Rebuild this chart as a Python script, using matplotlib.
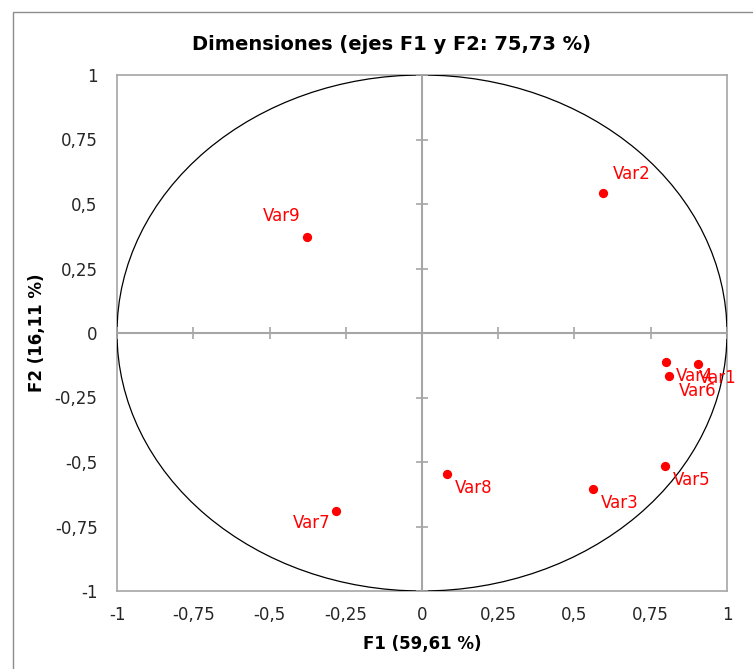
import matplotlib
matplotlib.use("Agg")
import matplotlib.pyplot as plt
from matplotlib.patches import Circle, Rectangle
from matplotlib.ticker import FuncFormatter
import numpy as np

# Variable coordinates on the correlation circle (F1, F2)
var_names = ["Var1", "Var2", "Var3", "Var4", "Var5", "Var6", "Var7", "Var8", "Var9"]
f1 = [0.905, 0.593, 0.561, 0.800, 0.797, 0.810, -0.282, 0.082, -0.377]
f2 = [-0.120, 0.543, -0.605, -0.112, -0.516, -0.167, -0.690, -0.547, 0.372]

# label placement (pixel offsets, alignment) as in the original
label_pos = {
    "Var1": (1, -14, "left"),
    "Var2": (10, 19, "left"),
    "Var3": (8, -14, "left"),
    "Var4": (10, -14, "left"),
    "Var5": (8, -14, "left"),
    "Var6": (10, -15, "left"),
    "Var7": (-5, -12, "right"),
    "Var8": (8, -14, "left"),
    "Var9": (-7, 21, "right"),
}

ticks = [-1, -0.75, -0.5, -0.25, 0, 0.25, 0.5, 0.75, 1]
grey = "#a6a6a6"


def comma_fmt(v, pos):
    s = f"{v:g}"
    return s.replace(".", ",")


fig = plt.figure(figsize=(7.53, 6.69), dpi=100)
fig.patches.append(Rectangle((13 / 753, -0.1), 1.2, 1 - 12 / 669 + 0.1,
                             transform=fig.transFigure, fill=False,
                             edgecolor="#8c8c8c", linewidth=1.0))

pos = [117 / 753, 78 / 669, 610 / 753, 516 / 669]

# frame axes carrying the tick labels at the edges
ax_lab = fig.add_axes(pos)
ax_lab.set_xlim(-1, 1)
ax_lab.set_ylim(-1, 1)
ax_lab.set_xticks(ticks)
ax_lab.set_yticks(ticks)
ax_lab.xaxis.set_major_formatter(FuncFormatter(comma_fmt))
ax_lab.yaxis.set_major_formatter(FuncFormatter(comma_fmt))
ax_lab.tick_params(length=0, labelsize=12, colors="#262626", pad=11)
ax_lab.tick_params(axis="y", pad=14)
for sp in ax_lab.spines.values():
    sp.set_color(grey)
    sp.set_linewidth(1.2)
ax_lab.set_xlabel("F1 (59,61 %)", fontsize=12, fontweight="bold", labelpad=8)
ax_lab.set_ylabel("F2 (16,11 %)", fontsize=12, fontweight="bold", labelpad=6)

# main axes with the crossing axes at zero
ax = fig.add_axes(pos)
ax.patch.set_alpha(0)
ax.set_xlim(-1, 1)
ax.set_ylim(-1, 1)
ax.spines["left"].set_position(("data", 0))
ax.spines["bottom"].set_position(("data", 0))
ax.spines["top"].set_visible(False)
ax.spines["right"].set_visible(False)
for k in ("left", "bottom"):
    ax.spines[k].set_color(grey)
    ax.spines[k].set_linewidth(1.5)
ax.set_xticks(ticks)
ax.set_yticks(ticks)
ax.tick_params(direction="inout", length=9, width=1.2, color=grey,
               labelbottom=False, labelleft=False)

ax.add_patch(Circle((0, 0), 1, fill=False, edgecolor="black", linewidth=0.9))

ax.scatter(f1, f2, s=32, color="red", zorder=5, clip_on=False)
for name, x, y in zip(var_names, f1, f2):
    dx, dy, ha = label_pos[name]
    ax.annotate(name, (x, y), xytext=(dx, dy), textcoords="offset pixels",
                ha=ha, va="center", color="red", fontsize=12, annotation_clip=False)

fig.text(0.52, 1 - 44 / 669, "Dimensiones (ejes F1 y F2: 75,73 %)",
         ha="center", va="center", fontsize=14, fontweight="bold")

fig.savefig("out.png", dpi=100)
